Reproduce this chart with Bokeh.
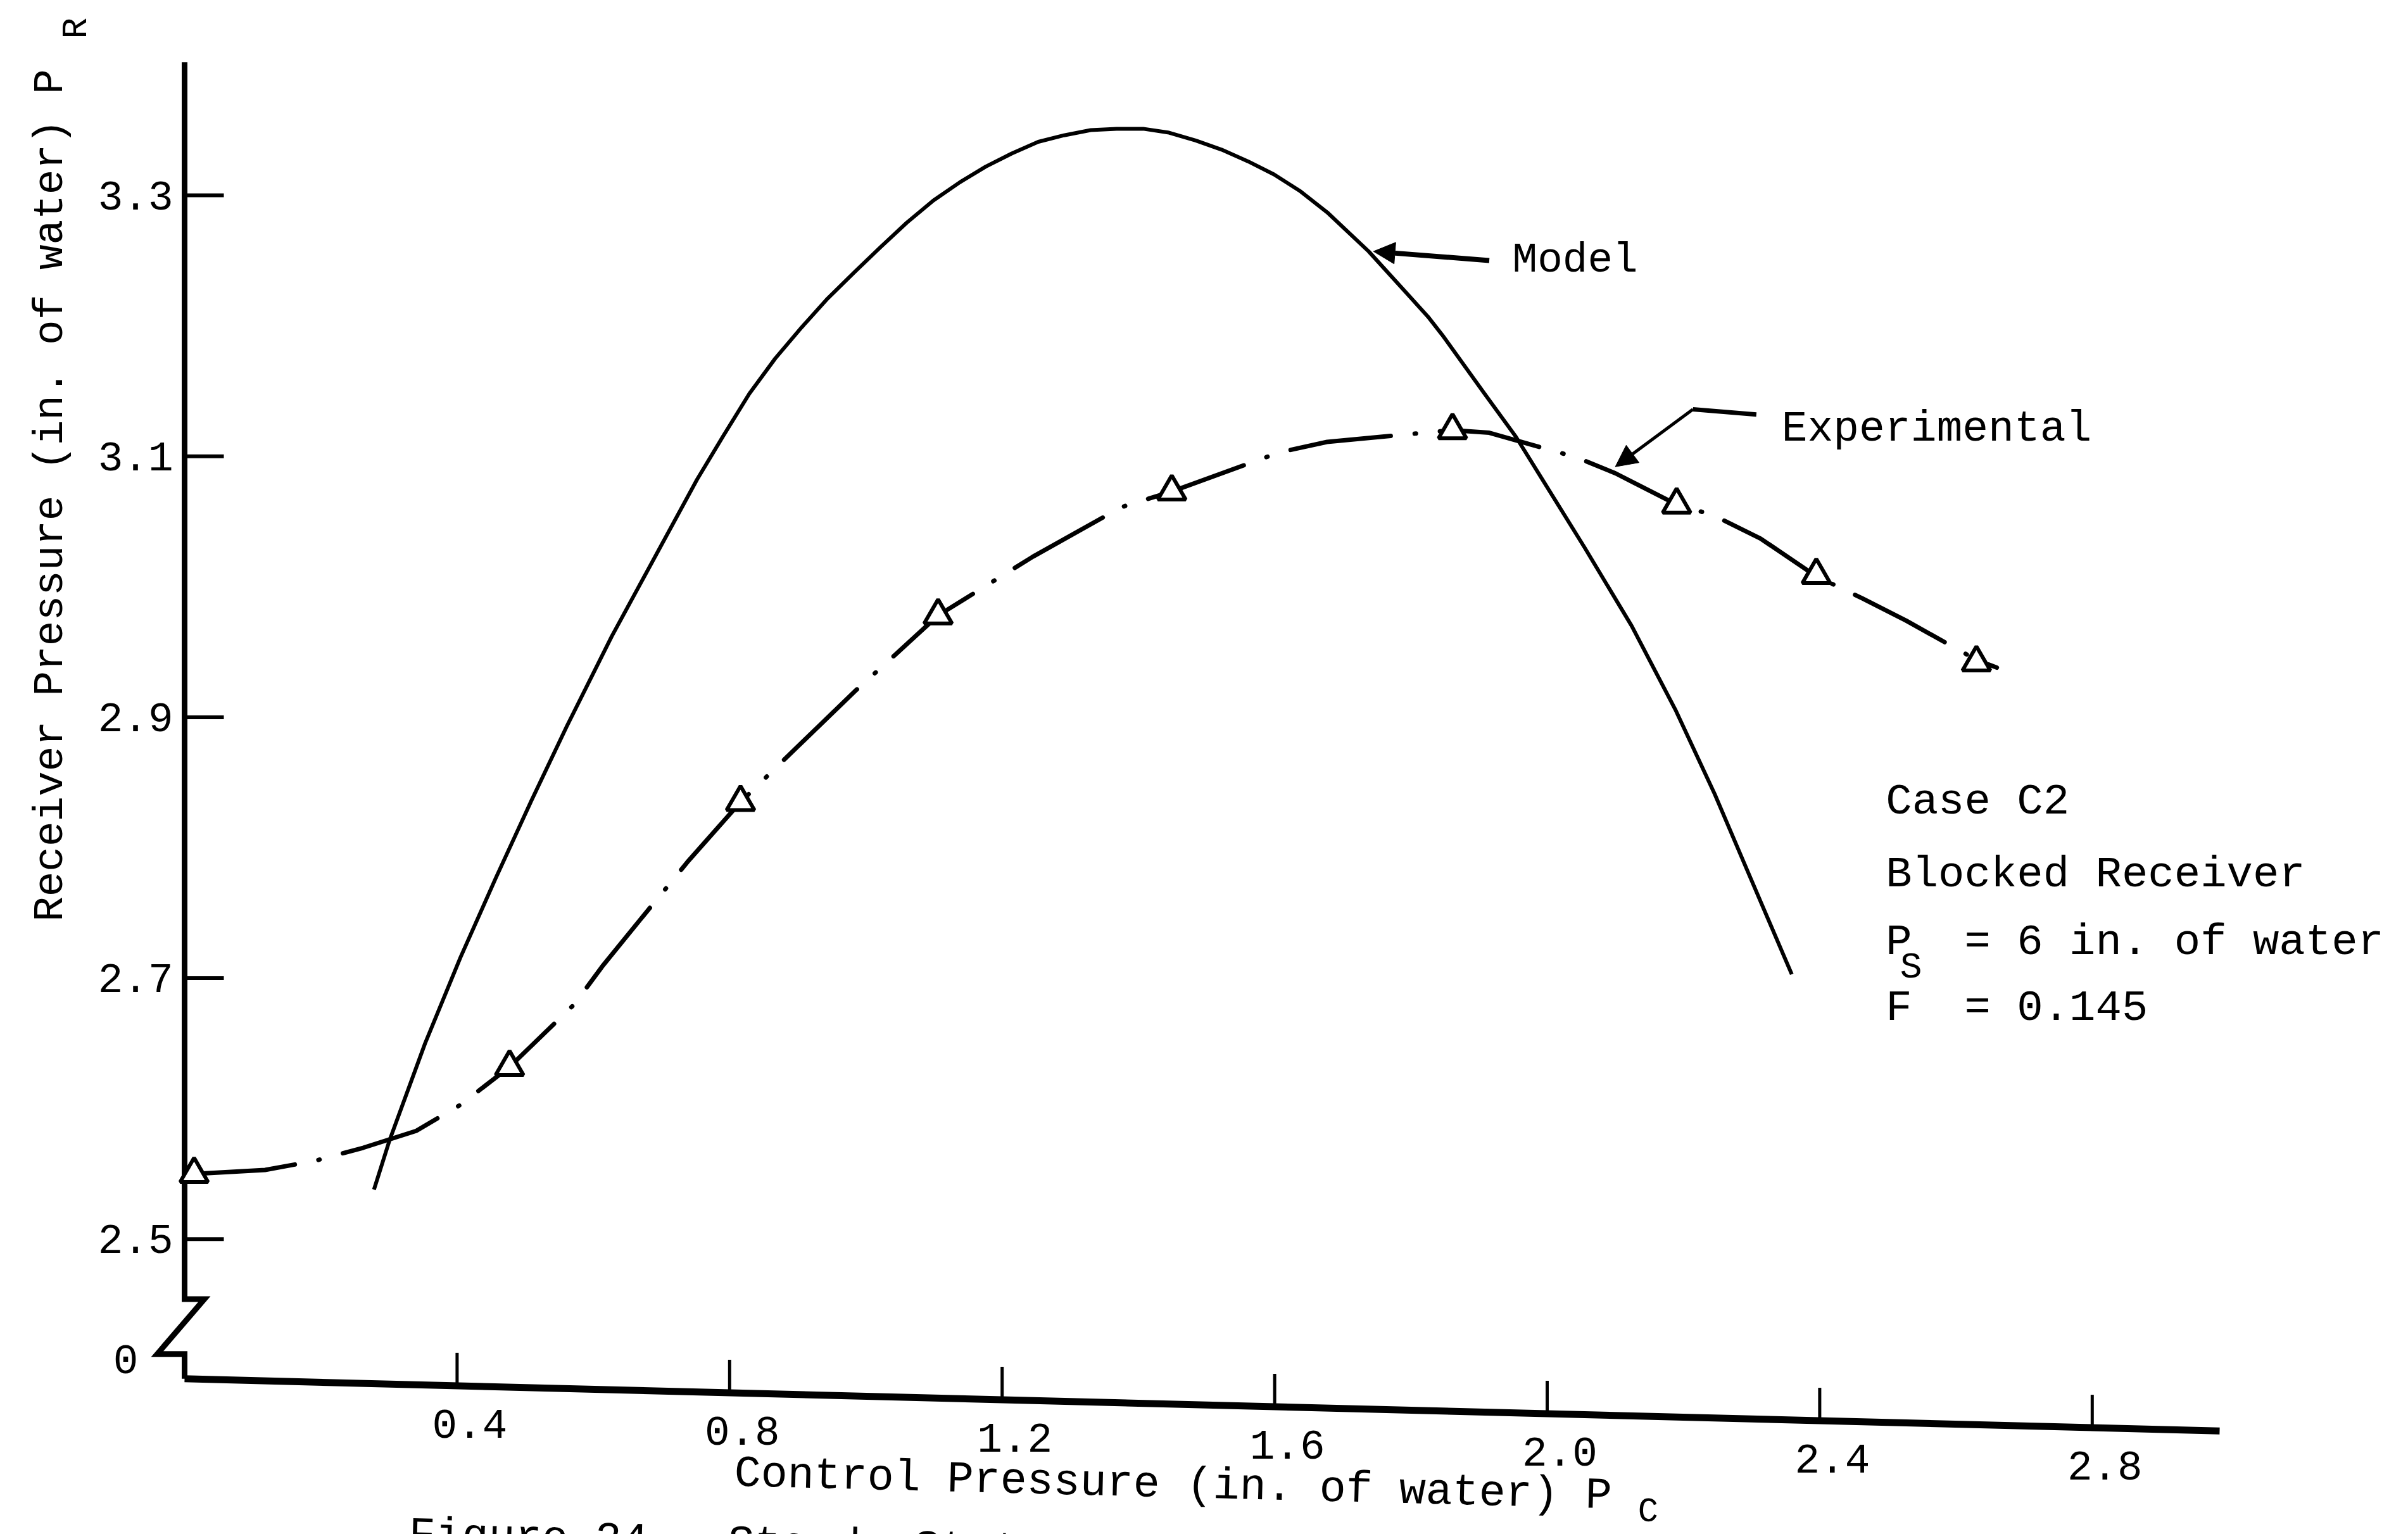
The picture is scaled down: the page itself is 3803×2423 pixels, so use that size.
import math
from bokeh.plotting import figure
from bokeh.models import Range1d, Label, Arrow, NormalHead
from bokeh.core.properties import value
from bokeh.embed import file_html
from bokeh.resources import INLINE

# ---------------- data ----------------
model_x = [0.278, 0.301, 0.353, 0.405, 0.457, 0.509, 0.561, 0.627, 0.752, 0.790,
           0.829, 0.867, 0.906, 0.944, 0.983, 1.021, 1.060, 1.099, 1.138, 1.176,
           1.214, 1.253, 1.291, 1.330, 1.368, 1.407, 1.445, 1.484, 1.522, 1.561,
           1.599, 1.638, 1.677, 1.738, 1.792, 1.825, 1.846, 1.908, 1.954, 2.055,
           2.124, 2.188, 2.246, 2.295, 2.359]
model_y = [2.538, 2.576, 2.650, 2.716, 2.777, 2.836, 2.893, 2.962, 3.082, 3.115,
           3.148, 3.175, 3.199, 3.221, 3.241, 3.260, 3.279, 3.296, 3.310, 3.322,
           3.332, 3.341, 3.346, 3.350, 3.351, 3.351, 3.348, 3.342, 3.335, 3.326,
           3.316, 3.303, 3.287, 3.257, 3.226, 3.207, 3.193, 3.148, 3.115, 3.030,
           2.970, 2.906, 2.841, 2.781, 2.703]

exp_curve_x = [0.014, 0.118, 0.191, 0.262, 0.340, 0.405, 0.477, 0.572, 0.613, 0.669,
               0.699, 0.738, 0.816, 0.891, 0.984, 1.037, 1.106, 1.245, 1.375, 1.449,
               1.607, 1.677, 1.838, 1.861, 1.915, 2.044, 2.100, 2.190, 2.243, 2.313,
               2.395, 2.463, 2.527, 2.630, 2.660]
exp_curve_y = [2.550, 2.553, 2.560, 2.570, 2.583, 2.603, 2.632, 2.680, 2.709, 2.745,
               2.764, 2.789, 2.835, 2.873, 2.920, 2.945, 2.978, 3.023, 3.061, 3.073,
               3.103, 3.111, 3.119, 3.120, 3.118, 3.099, 3.087, 3.063, 3.055, 3.037,
               3.008, 2.991, 2.974, 2.944, 2.938]

exp_x = [0.014, 0.477, 0.816, 1.106, 1.449, 1.861, 2.190, 2.395, 2.630]
exp_y = [2.550, 2.632, 2.835, 2.978, 3.073, 3.120, 3.063, 3.009, 2.942]

x_ticks = [0.4, 0.8, 1.2, 1.6, 2.0, 2.4, 2.8]
x_tick_labels = ["0.4", "0.8", "1.2", "1.6", "2.0", "2.4", "2.8"]
y_ticks = [2.5, 2.7, 2.9, 3.1, 3.3]
y_tick_labels = ["2.5", "2.7", "2.9", "3.1", "3.3"]
y_break_label = "0"

x_title = "Control Pressure (in. of water) P"
y_title = "Receiver Pressure (in. of water) P"
caption = "Figure 24.\u00a0\u00a0Steady State P"
note_lines = ["Case C2", "Blocked Receiver",
              "P\u00a0\u00a0= 6 in. of water", "F\u00a0\u00a0= 0.145"]

# ---------------- layout constants ----------------
W, H = 3803, 2423
PX_X0, PX_PER_X = 291.0, 1076.0     # screen x of x=0, px per unit
PX_Y33, PX_PER_Y = 308.0, 2061.0    # screen y (from top) of y=3.3, px per unit
X0 = -PX_X0 / PX_PER_X
X1 = (W - PX_X0) / PX_PER_X
Y1 = 3.3 + PX_Y33 / PX_PER_Y
Y0 = 3.3 - (H - PX_Y33) / PX_PER_Y

BASE_L, BASE_R = 2.393, 2.353       # x axis line level at left / right end (scan is skewed)
X_END = 2.987                       # right end of the x axis line
TOP_Y = 3.402                       # top of the y axis line
TILT = -math.atan2((BASE_L - BASE_R) * PX_PER_Y, X_END * PX_PER_X)
FONT = "Liberation Mono"


def base(x):
    return BASE_L + (BASE_R - BASE_L) * x / X_END


p = figure(width=W, height=H, x_range=Range1d(X0, X1), y_range=Range1d(Y0, Y1),
           output_backend="svg", toolbar_location=None, min_border=0,
           x_axis_location=None, y_axis_location=None)
p.outline_line_color = None
p.background_fill_color = "white"
p.border_fill_color = "white"
p.xgrid.visible = False
p.ygrid.visible = False

# axis spines with the break on the y axis
p.line([0, 0, 0.029, -0.040, 0.0, 0.0], [TOP_Y, 2.454, 2.454, 2.412, 2.412, BASE_L],
       line_color="black", line_width=9, line_join="miter")
p.line([0, X_END], [BASE_L, BASE_R], line_color="black", line_width=11)

# y ticks and labels
p.segment(x0=[0.0] * len(y_ticks), y0=y_ticks, x1=[62 / PX_PER_X] * len(y_ticks),
          y1=y_ticks, line_color="black", line_width=6)
p.text(x=[-18 / PX_PER_X] * len(y_ticks), y=y_ticks, text=y_tick_labels,
       text_font=value(FONT), text_font_size=value("66px"), text_align="right",
       text_baseline="middle", text_color="black")

# x ticks and labels (following the skewed axis line)
xb = [base(t) for t in x_ticks]
p.segment(x0=x_ticks, y0=xb, x1=x_ticks, y1=[b + 52 / PX_PER_Y for b in xb],
          line_color="black", line_width=5)
p.text(x=[t + 20 / PX_PER_X for t in x_ticks], y=[b - 60 / PX_PER_Y for b in xb],
       text=x_tick_labels, text_font=value(FONT), text_font_size=value("66px"),
       text_align="center", text_baseline="middle", text_color="black")

# model curve
p.line(model_x, model_y, line_color="black", line_width=6, line_join="round")

# experimental curve (dash-dot) and triangles
p.line(exp_curve_x, exp_curve_y, line_color="black", line_width=7,
       line_dash="160 38 2 38", line_cap="round", line_join="round")
p.scatter(exp_x, exp_y, marker="triangle", size=44, fill_color="white",
          line_color="black", line_width=6)

# call-outs
p.add_layout(Arrow(end=NormalHead(size=34, fill_color="black", line_color="black"),
                   x_start=1.915, y_start=3.250, x_end=1.745, y_end=3.257,
                   line_width=8, line_color="black"))
p.line([2.307, 2.214], [3.132, 3.136], line_color="black", line_width=7)
p.add_layout(Arrow(end=NormalHead(size=34, fill_color="black", line_color="black"),
                   x_start=2.214, y_start=3.136, x_end=2.100, y_end=3.092,
                   line_width=5, line_color="black"))


def lab(x, y, text, size="66px", align="left", baseline="middle", angle=0.0):
    p.add_layout(Label(x=x, y=y, text=text, text_font=FONT, text_font_size=size,
                       text_align=align, text_baseline=baseline, angle=angle,
                       text_color="black"))


lab(1.949, 3.250, "Model")
lab(2.344, 3.121, "Experimental", size="68px")

note_y = [2.835, 2.779, 2.727, 2.677]
for t, yy in zip(note_lines, note_y):
    lab(2.497, yy, t, size="69px")
lab(2.534, 2.708, "S", size="58px", align="center")

# y break label
lab(-0.068, 2.408, y_break_label, align="right")

# axis titles
lab(-0.196, 3.070, y_title, size="66px", align="center", angle=math.pi / 2)
lab(-0.158, 3.428, "R", size="56px", align="center", angle=math.pi / 2)
lab(0.807, 2.320, x_title, size="70px", angle=TILT)
lab(2.148, 2.291, "C", size="54px", align="center", angle=TILT)

# figure caption (cut by the page edge, as in the original scan)
lab(0.330, 2.292, caption, size="70px", baseline="top", angle=TILT)

open("out.html", "w").write(file_html(p, INLINE))
